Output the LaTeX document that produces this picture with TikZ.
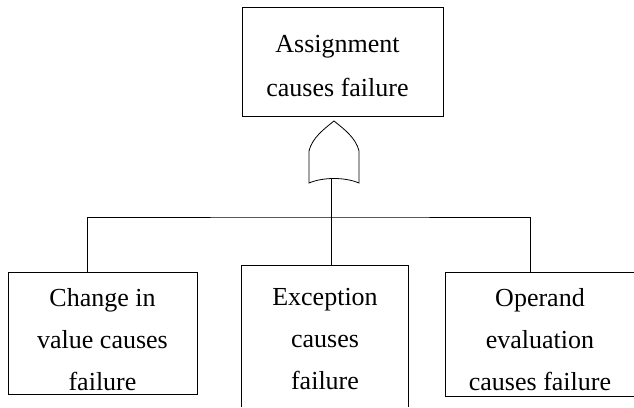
\documentclass[tikz,border=0pt]{standalone}
\usepackage{fontspec}
\setmainfont{Liberation Serif}
\begin{document}
\begin{tikzpicture}[x=1pt,y=-1pt,
  every path/.style={line width=0.8pt},
  label text/.style={font=\fontsize{26}{42}\selectfont, align=center, inner sep=0pt},
  event/.style={draw, rectangle, inner sep=0pt},
  openbox/.style={rectangle, inner sep=0pt}
]
\useasboundingbox (0,0) rectangle (634,407);

% top event
\node[event, minimum width=201pt, minimum height=109pt] (top) at (342.5,61.5) {};
\node[label text, font=\fontsize{26}{44}\selectfont] (toptxt) at ([xshift=-5pt,yshift=-5pt]top.center)
  {Assignment\\causes failure};

% OR gate
\coordinate (gout) at (331,179);
\draw (309,183) -- (309,151)
  .. controls (312,138) and (324,129) .. (334,121)
  .. controls (344,129) and (356,138) .. (359,151)
  -- (359,183)
  .. controls (345,177) and (323,177) .. (309,183) -- cycle;

% basic events
\node[event, minimum width=189pt, minimum height=122pt] (chg) at (102.5,333) {};
\node[label text] (chgtxt) at ([yshift=-7pt]chg.center)
  {Change in\\value causes\\failure};

\node[openbox, minimum width=166pt, minimum height=141pt] (exc) at (325,336.5) {};
\draw (exc.south west) -- (exc.north west) -- (exc.north east) -- (exc.south east);
\node[label text] (exctxt) at ([yshift=-3pt]exc.center)
  {Exception\\causes\\failure};

\node[openbox, minimum width=188pt, minimum height=123pt] (opd) at (540,334.5) {};
\draw (opd.north east) -- (opd.north west) -- (opd.south west) -- (opd.south east);
\node[label text] (opdtxt) at ([yshift=-5pt]opd.center)
  {Operand\\evaluation\\causes failure};

% connectors
\coordinate (bus) at (331,217);
\draw (gout) -- (gout |- exc.north);
\draw (chg.north -| 87,0) |- (bus) -| (opd.north -| 530,0);
\end{tikzpicture}
\end{document}
